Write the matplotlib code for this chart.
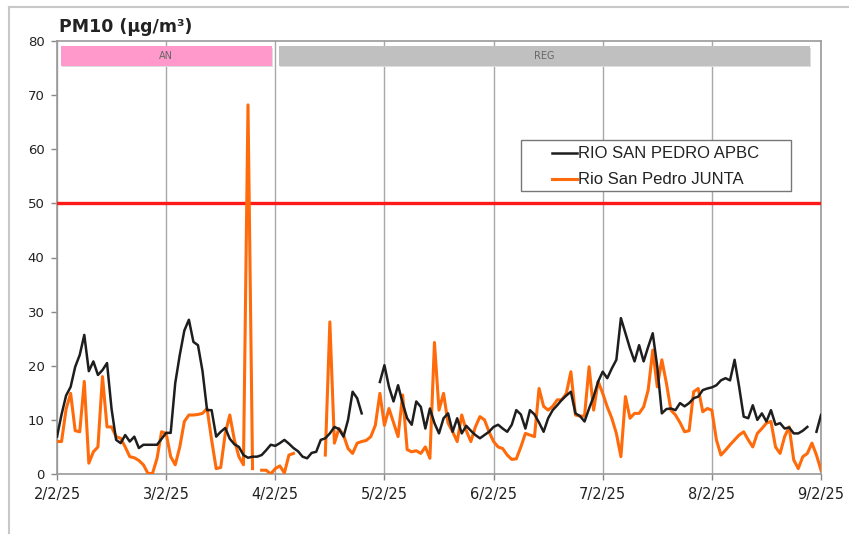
import numpy as np
import matplotlib
matplotlib.use("Agg")
import matplotlib.pyplot as plt
from matplotlib.lines import Line2D
from matplotlib.patches import Rectangle

nan = np.nan

# x: hours since 2/2/25 00:00 (hourly data, one week)
tick_labels = ["2/2/25", "3/2/25", "4/2/25", "5/2/25", "6/2/25", "7/2/25", "8/2/25", "9/2/25"]
tick_hours = [0, 24, 48, 72, 96, 120, 144, 168]

apbc = [
    6.9, 11.0, 14.5, 16.1, 19.8, 22.0, 25.7, 19.0, 20.8, 18.3,
    19.2, 20.5, 12.0, 6.3, 5.7, 7.2, 6.0, 6.9, 4.8, 5.4,
    5.4, 5.4, 5.4, 6.5, 7.6, 7.6, 16.8, 22.0, 26.5, 28.5,
    24.4, 23.8, 19.0, 11.8, 11.8, 6.9, 7.8, 8.5, 6.5, 5.5,
    5.0, 3.5, 3.0, 3.2, 3.2, 3.5, 4.4, 5.4, 5.2, 5.7,
    6.3, 5.6, 4.8, 4.2, 3.2, 2.9, 3.9, 4.1, 6.3, 6.6,
    7.5, 8.7, 8.3, 6.9, 10.0, 15.2, 14.0, 11.2, nan, nan,
    nan, 17.0, 20.1, 16.1, 13.4, 16.4, 13.1, 10.3, 9.1, 13.4,
    12.4, 8.4, 12.1, 9.4, 7.5, 10.3, 11.2, 7.8, 10.3, 7.5,
    8.9, 8.0, 7.2, 6.6, 7.2, 7.8, 8.7, 9.1, 8.4, 7.8,
    9.1, 11.8, 11.0, 8.4, 11.8, 11.0, 9.5, 7.8, 10.3, 11.8,
    12.7, 13.7, 14.5, 15.2, 11.2, 10.7, 9.7, 12.1, 14.3, 17.1,
    18.9, 17.7, 19.5, 21.1, 28.8, 26.0, 23.2, 20.8, 23.8, 20.8,
    23.5, 26.0, 19.8, 11.2, 12.0, 12.1, 11.8, 13.1, 12.5, 13.1,
    14.0, 14.3, 15.5, 15.8, 16.0, 16.4, 17.3, 17.7, 17.3, 21.1,
    16.1, 10.6, 10.3, 12.7, 10.0, 11.2, 9.7, 11.8, 9.1, 9.4,
    8.4, 8.6, 7.5, 7.5, 8.0, 8.7, nan, 7.8, 10.9,
]

junta = [
    6.0, 6.0, 12.0, 14.9, 8.0, 7.8, 17.1, 2.0, 4.1, 5.0,
    18.0, 8.7, 8.7, 6.9, 6.6, 5.0, 3.2, 3.0, 2.5, 1.7,
    0.1, 0.1, 2.9, 7.8, 7.5, 3.2, 1.7, 5.0, 9.7, 10.9,
    10.9, 11.0, 11.2, 12.1, 6.3, 1.0, 1.2, 7.5, 10.9, 6.3,
    3.2, 1.7, 68.2, 1.0, nan, 0.7, 0.7, 0.0, 1.0, 1.5,
    0.2, 3.5, 3.8, nan, nan, nan, nan, nan, nan, 3.5,
    28.1, 5.7, 8.4, 7.2, 4.7, 3.8, 5.7, 6.0, 6.2, 6.9,
    9.0, 14.9, 9.0, 12.1, 9.5, 6.9, 14.6, 4.5, 4.1, 4.3,
    3.8, 5.0, 2.9, 24.3, 11.8, 14.9, 9.4, 7.8, 6.0, 10.9,
    8.0, 6.0, 8.7, 10.6, 10.0, 7.8, 6.0, 5.0, 4.7, 3.5,
    2.7, 2.8, 5.0, 7.5, 7.2, 6.9, 15.8, 12.5, 11.8, 12.5,
    13.7, 13.7, 14.9, 18.9, 10.9, 10.7, 10.7, 19.8, 11.8, 17.1,
    14.9, 12.4, 10.3, 7.5, 3.2, 14.3, 10.3, 11.2, 11.2, 12.4,
    15.5, 22.9, 16.1, 21.1, 16.8, 11.8, 10.9, 9.5, 7.8, 8.0,
    15.2, 15.8, 11.5, 12.1, 11.8, 6.3, 3.5, 4.4, 5.4, 6.3,
    7.2, 7.8, 6.3, 5.0, 7.5, 8.4, 9.4, 9.7, 5.0, 3.8,
    6.9, 8.7, 2.6, 1.0, 3.2, 3.8, 5.7, 3.5, 0.7,
]

series_names = ["RIO SAN PEDRO APBC", "Rio San Pedro JUNTA"]
series_colors = ["#1e1e1e", "#ff6a0a"]
limit_value = 50

period_labels = ["AN", "REG"]
period_start = [0, 48]
period_end = [48, 168]

hours = np.arange(len(apbc))

W, H = 849, 534
fig = plt.figure(figsize=(W / 100, H / 100), dpi=100)
ax = fig.add_axes([57 / W, 1 - 474 / H, (821 - 57) / W, (474 - 41) / H])

# outer light frame
fig.add_artist(Line2D([9 / W, 1], [1 - 7 / H, 1 - 7 / H], transform=fig.transFigure,
                      color="#c8c8c8", lw=1.5))
fig.add_artist(Line2D([9 / W, 9 / W], [0, 1 - 7 / H], transform=fig.transFigure,
                      color="#c8c8c8", lw=1.5))

ax.set_xlim(0, 168)
ax.set_ylim(0, 80)
ax.set_xticks(tick_hours)
ax.set_xticklabels(tick_labels)
ax.set_yticks(range(0, 81, 10))
ax.tick_params(axis="both", colors="#888888", labelcolor="#222222", length=4, width=1)
ax.tick_params(axis="x", labelsize=10.5, pad=5)
ax.tick_params(axis="y", labelsize=9.5, pad=5)
for lab in ax.get_xticklabels() + ax.get_yticklabels():
    lab.set_family("DejaVu Sans")
for s in ax.spines.values():
    s.set_color("#999999")
    s.set_linewidth(1.2)
ax.grid(axis="x", color="#a8a8a8", lw=1.0)
ax.set_axisbelow(True)

# period bands
band_colors = ["#ff99cc", "#c0c0c0"]
band_right_pad = [0.8, 2.5]
for lab, s, e, c, rp in zip(period_labels, period_start, period_end, band_colors, band_right_pad):
    x0 = s + 0.8
    x1 = e - rp
    ax.add_patch(Rectangle((x0 + 0.3, 75.4 - 0.25), x1 - x0, 3.6, facecolor="#dddddd",
                           edgecolor="none", zorder=2))
    ax.add_patch(Rectangle((x0, 75.4), x1 - x0, 3.6, facecolor=c, edgecolor="none", zorder=3))
    ax.text((x0 + x1) / 2, 77.2, lab, ha="center", va="center", fontsize=7,
            color="#666666", zorder=4)

ax.axhline(limit_value, color="#ff1a1a", lw=2.4, zorder=3)

ax.plot(hours, apbc, color=series_colors[0], lw=1.8, zorder=5)
ax.plot(hours, junta, color=series_colors[1], lw=2.2, zorder=4)

# legend box (drawn in axes fraction)
def fx(px):
    return (px - 57) / (821 - 57)

def fy(py):
    return (474 - py) / (474 - 41)

ax.add_patch(Rectangle((fx(521), fy(191)), fx(791) - fx(521), fy(140) - fy(191),
                       transform=ax.transAxes, facecolor="white", edgecolor="#777777",
                       lw=1.0, zorder=6))
for name, col, py, lw in zip(series_names, series_colors, [153, 179], [1.8, 2.2]):
    ax.add_line(Line2D([fx(552), fx(577)], [fy(py), fy(py)], transform=ax.transAxes,
                       color=col, lw=lw, zorder=7))
    ax.text(fx(578), fy(py), name, transform=ax.transAxes, ha="left", va="center",
            fontsize=12, family="Liberation Sans", color="#222222", zorder=7)

fig.text(59 / W, 1 - 27 / H, "PM10 (µg/m³)", fontsize=12.5, fontweight="bold",
         color="#222222", va="center", ha="left", family="DejaVu Sans")

fig.savefig("out.png", dpi=100)
